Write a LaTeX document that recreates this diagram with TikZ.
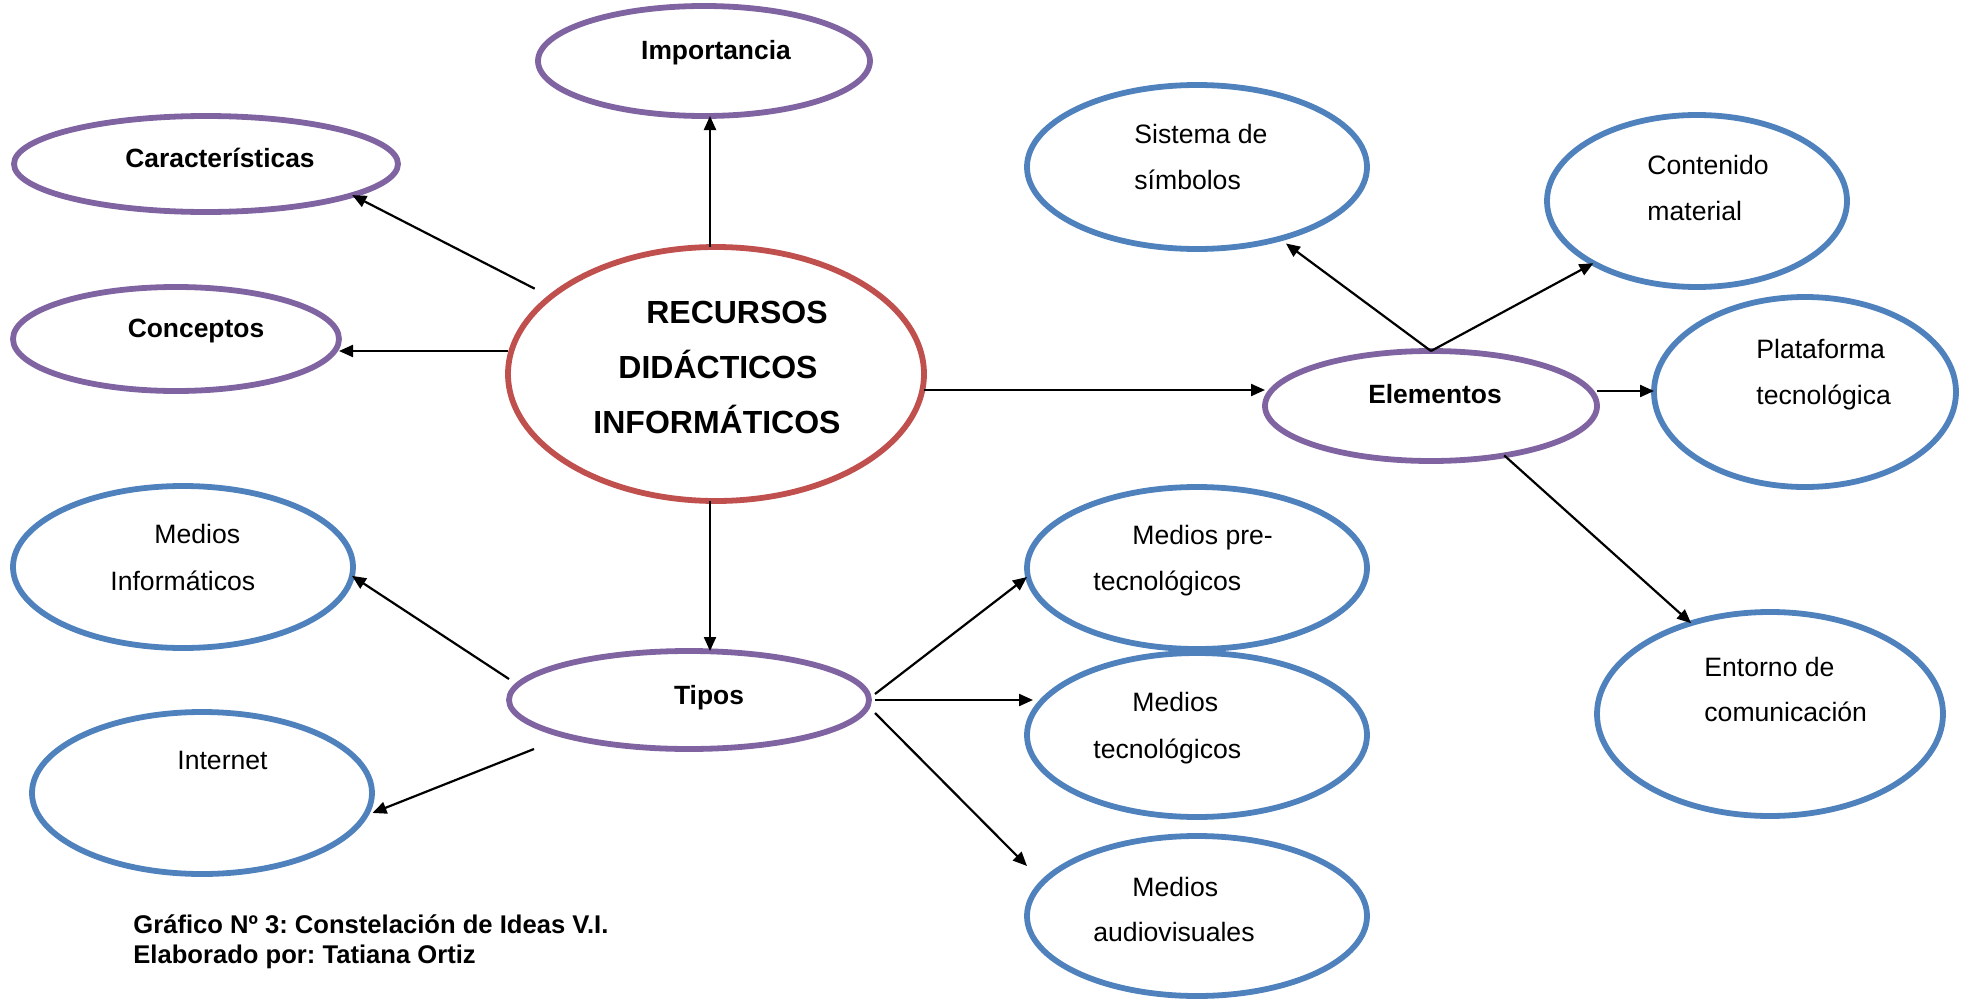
\documentclass[tikz,border=0pt]{standalone}
\usepackage{fontspec}
\setmainfont{Liberation Sans}
\usetikzlibrary{shapes.geometric,arrows.meta,calc}
\definecolor{cred}{HTML}{C0504D}
\definecolor{cpur}{HTML}{8064A2}
\definecolor{cblu}{HTML}{4F81BD}
\frenchspacing
\tikzset{
  ell/.style={ellipse, draw, line width=2.9pt, inner sep=0pt, outer sep=0pt},
  redE/.style={ell, draw=cred},
  purE/.style={ell, draw=cpur},
  bluE/.style={ell, draw=cblu},
  arr/.style={-{Triangle[length=7pt,width=6pt]}, line width=1.1pt},
  lbl/.style={anchor=base west, inner sep=0pt, font=\fontsize{13.3}{16}\selectfont},
  blbl/.style={anchor=base, inner sep=0pt, font=\bfseries\fontsize{13.2}{16}\selectfont},
  mlbl/.style={anchor=base, inner sep=0pt, font=\bfseries\fontsize{16}{19}\selectfont},
  captxt/.style={anchor=base west, inner sep=0pt, font=\bfseries\fontsize{12.8}{15}\selectfont},
}
\begin{document}
\begin{tikzpicture}[x=0.5pt,y=-0.5pt]
\useasboundingbox (0,0) rectangle (1967,1001);
% ellipses
\node[purE, minimum width=166pt, minimum height=55pt] (imp) at (704,61) {};
\node[purE, minimum width=192pt, minimum height=48pt] (car) at (206,164) {};
\node[purE, minimum width=163pt, minimum height=52pt] (con) at (176,339) {};
\node[redE, minimum width=208pt, minimum height=127pt] (main) at (716,374) {};
\node[bluE, minimum width=170pt, minimum height=81pt] (mi) at (183,567) {};
\node[bluE, minimum width=170pt, minimum height=81pt] (int) at (202,793) {};
\node[purE, minimum width=180pt, minimum height=49pt] (tip) at (689,700) {};
\node[bluE, minimum width=170pt, minimum height=82pt] (sis) at (1197,167) {};
\node[bluE, minimum width=150pt, minimum height=86pt] (cont) at (1697,201) {};
\node[purE, minimum width=166pt, minimum height=55pt] (ele) at (1431,406) {};
\node[bluE, minimum width=151pt, minimum height=95pt] (plat) at (1805,392) {};
\node[bluE, minimum width=173pt, minimum height=102pt] (ent) at (1770,714) {};
\node[bluE, minimum width=170pt, minimum height=81pt] (mp) at (1197,568) {};
\node[bluE, minimum width=170pt, minimum height=82pt] (mt) at (1197,735) {};
\node[bluE, minimum width=170pt, minimum height=80pt] (ma) at (1197,916) {};
% labels
\node[blbl] (t-imp) at (716,60) {Importancia};
\node[blbl] (t-car) at (220,167) {Características};
\node[blbl] (t-con) at (196,337) {Conceptos};
\node[mlbl] (t-main1) at (737,323) {RECURSOS};
\node[mlbl] (t-main2) at (718,378) {DIDÁCTICOS};
\node[mlbl] (t-main3) at (717,433) {INFORMÁTICOS};
\node[blbl] (t-ele) at (1435,403) {Elementos};
\node[blbl] (t-tip) at (709,704) {Tipos};
\node[lbl] (t-mi1) at (154,543) {Medios};
\node[lbl] (t-mi2) at (110,590) {Informáticos};
\node[lbl] (t-int) at (177,769) {Internet};
\node[lbl] (t-sis1) at (1134,143) {Sistema de};
\node[lbl] (t-sis2) at (1134,189) {símbolos};
\node[lbl] (t-cont1) at (1647,174) {Contenido};
\node[lbl] (t-cont2) at (1647,220) {material};
\node[lbl] (t-plat1) at (1756,358) {Plataforma};
\node[lbl] (t-plat2) at (1756,404) {tecnológica};
\node[lbl] (t-ent1) at (1704,676) {Entorno de};
\node[lbl] (t-ent2) at (1704,721) {comunicación};
\node[lbl] (t-mp1) at (1132,544) {Medios pre-};
\node[lbl] (t-mp2) at (1093,590) {tecnológicos};
\node[lbl] (t-mt1) at (1132,711) {Medios};
\node[lbl] (t-mt2) at (1093,758) {tecnológicos};
\node[lbl] (t-ma1) at (1132,896) {Medios};
\node[lbl] (t-ma2) at (1093,941) {audiovisuales};
\node[captxt] (cap1) at (133,933) {Gráfico Nº 3: Constelación de Ideas V.I.};
\node[captxt] (cap2) at (133,963) {Elaborado por: Tatiana Ortiz};
% connectors
\draw[arr] ([xshift=-3pt]main.north) -- ([xshift=-3pt]main.north |- imp.south);
\draw[arr, shorten <=9pt] (main.155) -- (car.-12);
\draw[arr] ([yshift=11.5pt]main.west) -- ([yshift=11.5pt]main.west -| con.east);
\draw[arr] ([xshift=-3pt]main.south) -- ([xshift=-3pt]main.south |- tip.north);
\draw[arr] ([yshift=-8pt]main.east) -- ([yshift=-8pt]main.east -| ele.west);
\draw[arr, shorten >=4pt] (ele.north) -- (sis.-41);
\draw[arr] (ele.north) -- (cont.-149);
\draw[arr] ([yshift=7.5pt]ele.east) -- ([yshift=7.5pt]ele.east -| plat.west);
\draw[arr] (ele.-34) -- (ent.131);
\draw[arr] ([yshift=10.5pt]tip.west) -- (mi.-3);
\draw[arr, shorten >=4pt] ([xshift=12.5pt]tip.west |- tip.south) -- (int.-8);
\draw[arr] ([xshift=3pt,yshift=3pt]tip.east) -- ([yshift=-4.5pt]mp.west);
\draw[arr] ([xshift=3pt]tip.east) -- ([xshift=3pt]tip.east -| mt.west);
\draw[arr] ([xshift=3pt,yshift=-6.5pt]tip.east) -- ([yshift=25pt]ma.west);
\end{tikzpicture}
\end{document}
